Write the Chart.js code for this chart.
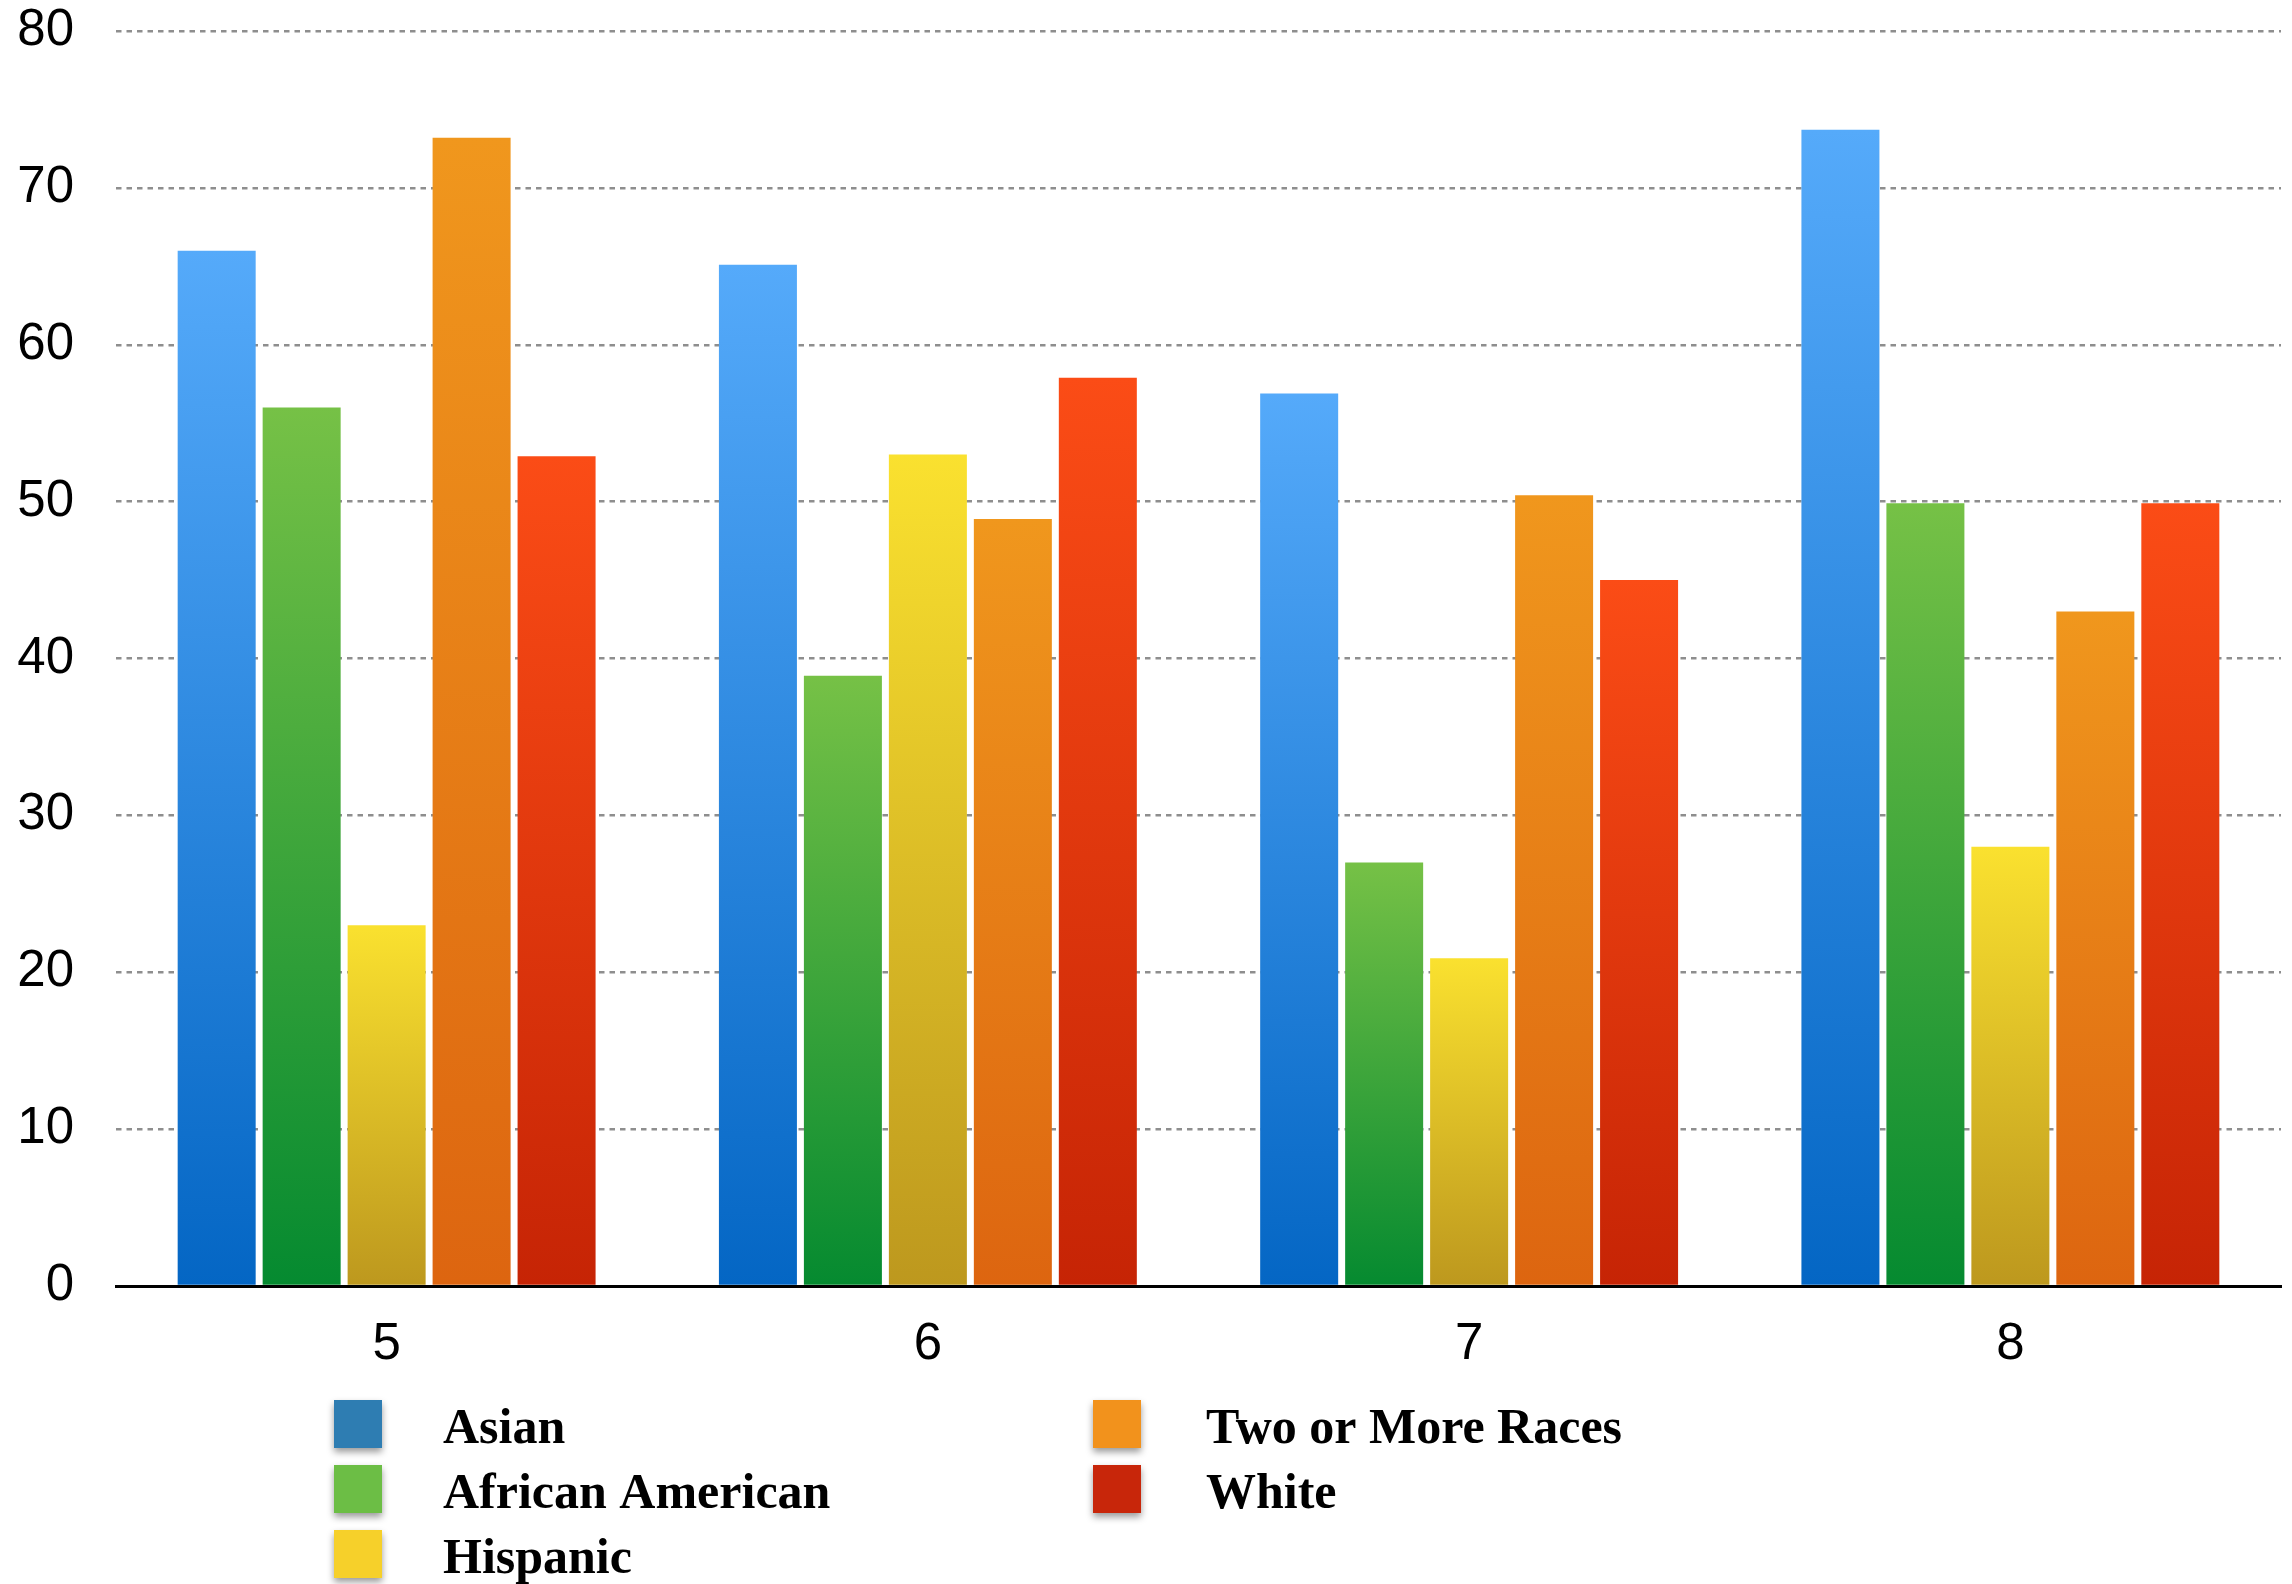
<!DOCTYPE html>
<html>
<head>
<meta charset="utf-8">
<title>Grade results by race</title>
<script src="https://cdn.jsdelivr.net/npm/chart.js@4/dist/chart.umd.min.js"></script>
<style>
  html, body { margin: 0; padding: 0; background: #ffffff; }
  #wrap { width: 2292px; height: 1584px; }
</style>
</head>
<body>
<div id="wrap"><canvas id="chart" width="2292" height="1584"></canvas></div>
<script>
// Grades on the x axis
const grades = ['5', '6', '7', '8'];

// Series labels
const seriesNames = ['Asian', 'African American', 'Hispanic', 'Two or More Races', 'White'];

// Values per grade (5, 6, 7, 8)
const asian = [66, 65.1, 56.9, 73.7];
const africanAmerican = [56, 38.9, 27, 49.9];
const hispanic = [23, 53, 20.9, 28];
const twoOrMore = [73.2, 48.9, 50.4, 43];
const white = [52.9, 57.9, 45, 49.9];

// Y axis range
const yMin = 0;
const yMax = 80;
const yStep = 10;

// Bar gradients (top colour, bottom colour) and legend swatch colours
const barGradients = [
  ['#55aafa', '#0466c4'],
  ['#76c146', '#058a30'],
  ['#fae12f', '#bd981e'],
  ['#f0971d', '#dd6510'],
  ['#fb4c16', '#c62405']
];
const swatchColors = ['#2e7db2', '#6cbe45', '#f6d02a', '#f2921c', '#c8260a'];

const seriesValues = [asian, africanAmerican, hispanic, twoOrMore, white];

function barFill(index) {
  return function (ctx) {
    const chart = ctx.chart;
    const yScale = chart.scales.y;
    if (!chart.chartArea || !yScale || ctx.raw == null) return barGradients[index][0];
    const top = yScale.getPixelForValue(ctx.raw);
    const bottom = yScale.getPixelForValue(0);
    if (!isFinite(top) || !isFinite(bottom) || top === bottom) return barGradients[index][0];
    const g = chart.ctx.createLinearGradient(0, top, 0, bottom);
    g.addColorStop(0, barGradients[index][0]);
    g.addColorStop(1, barGradients[index][1]);
    return g;
  };
}

// Two-column legend under the axis, drawn from the dataset labels
const columnLegend = {
  id: 'columnLegend',
  afterDraw(chart) {
    const ctx = chart.ctx;
    const cols = [
      { x: 334, textX: 443, items: [0, 1, 2] },
      { x: 1093, textX: 1206, items: [3, 4] }
    ];
    const rowTop = 1400;
    const rowPitch = 65;
    const size = 48;
    ctx.save();
    cols.forEach(col => {
      col.items.forEach((di, r) => {
        const ds = chart.data.datasets[di];
        const y = rowTop + r * rowPitch;
        ctx.save();
        ctx.shadowColor = 'rgba(0,0,0,0.4)';
        ctx.shadowBlur = 7;
        ctx.shadowOffsetY = 4;
        ctx.fillStyle = swatchColors[di];
        ctx.fillRect(col.x, y, size, size);
        ctx.restore();
        ctx.fillStyle = '#000000';
        ctx.font = 'bold 50px "Liberation Serif", "Times New Roman", serif';
        ctx.textBaseline = 'alphabetic';
        ctx.textAlign = 'left';
        ctx.fillText(ds.label, col.textX, y + 43);
      });
    });
    ctx.restore();
  }
};

const datasets = seriesNames.map((name, i) => ({
  label: name,
  data: seriesValues[i],
  backgroundColor: barFill(i),
  borderWidth: 0,
  categoryPercentage: 0.785,
  barPercentage: 0.918
}));

new Chart(document.getElementById('chart'), {
  type: 'bar',
  data: { labels: grades, datasets },
  options: {
    responsive: false,
    devicePixelRatio: 1,
    animation: false,
    layout: { padding: { top: 31, right: 11, left: 0, bottom: 0 } },
    plugins: {
      legend: { display: false },
      tooltip: { enabled: false }
    },
    scales: {
      x: {
        grid: { display: false, drawTicks: false },
        border: { display: true, color: '#000000', width: 3 },
        ticks: {
          color: '#000000',
          padding: 28,
          font: { family: '"Liberation Sans", Arial, sans-serif', size: 51 }
        },
        afterFit(scale) { scale.height = 298; }
      },
      y: {
        min: yMin,
        max: yMax,
        grid: {
          color: ctx => (ctx.tick && ctx.tick.value === 0 ? 'rgba(0,0,0,0)' : '#8e8e8e'),
          lineWidth: 2.5,
          drawTicks: false
        },
        border: { display: false, dash: [5.5, 5] },
        ticks: {
          stepSize: yStep,
          color: '#000000',
          padding: 42,
          font: { family: '"Liberation Sans", Arial, sans-serif', size: 51 }
        },
        afterFit(scale) {
          scale.width = 116;
          // label overhang above/below is already covered by the layout padding
          scale.paddingTop = 0;
          scale.paddingBottom = 0;
        }
      }
    }
  },
  plugins: [columnLegend]
});
</script>
</body>
</html>
